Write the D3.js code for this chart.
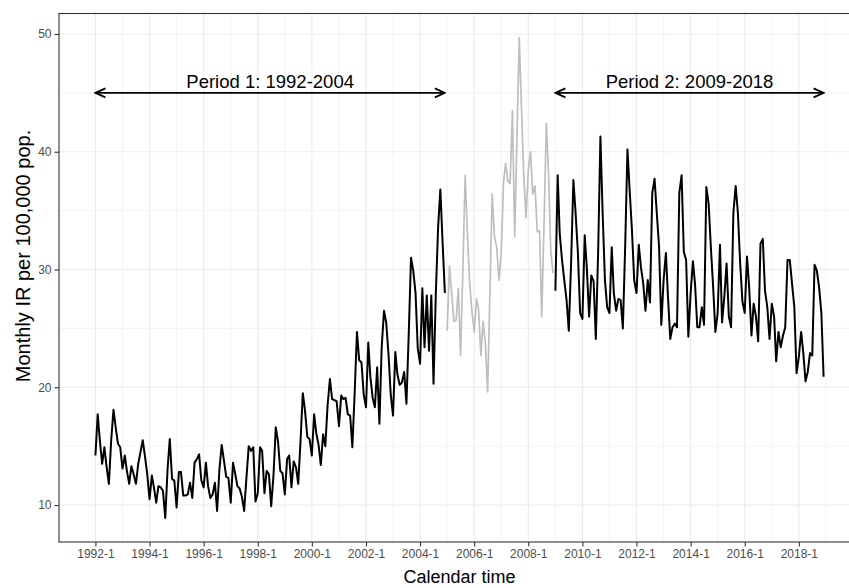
<!DOCTYPE html>
<html>
<head>
<meta charset="utf-8">
<script src="https://cdn.jsdelivr.net/npm/d3@7"></script>
<style>
  body { margin: 0; background: #fff; }
  text { font-family: "Liberation Sans", Arial, Helvetica, sans-serif; }
</style>
</head>
<body>
<div id="chart"></div>
<script>
// monthly IR per 100,000
var period1Start = "1992-01";
var period1Values = [
  14.2, 17.7, 15.5, 13.5, 14.9, 13.2, 11.8, 15.5, 18.1, 16.6, 15.2, 14.9,
  13.1, 14.2, 12.9, 11.8, 13.3, 12.6, 11.8, 13.5, 14.5, 15.5, 14.1, 12.6,
  10.5, 12.5, 11.5, 10.2, 11.6, 11.5, 11.2, 8.9, 13.0, 15.6, 12.2, 12.1,
  9.8, 12.8, 12.8, 10.8, 10.8, 10.9, 11.9, 10.6, 13.6, 13.9, 14.3, 12.1,
  11.5, 13.6, 11.6, 10.6, 10.9, 11.9, 9.5, 13.0, 15.1, 13.8, 12.4, 12.3,
  10.2, 13.6, 12.7, 11.6, 11.4, 10.7, 9.5, 12.3, 15.0, 14.6, 14.9, 10.3,
  11.0, 14.9, 14.6, 11.0, 12.9, 12.6, 9.9, 12.5, 16.6, 15.4, 12.9, 12.7,
  10.9, 13.9, 14.2, 11.5, 13.7, 13.2, 11.8, 15.4, 19.5, 18.0, 15.8, 15.6,
  14.2, 17.7, 16.1, 15.1, 13.4, 16.0, 15.0, 18.5, 20.7, 19.0, 18.9, 18.8,
  16.7, 19.3, 19.0, 19.1, 17.7, 17.6, 14.9, 19.5, 24.7, 22.3, 22.1, 19.4,
  18.3, 23.8, 20.9, 19.1, 18.3, 21.7, 16.9, 23.4, 26.5, 25.5, 22.8, 19.4,
  17.6, 23.0, 21.1, 20.2, 20.4, 21.3, 18.6, 24.5, 31.0, 29.9, 28.0, 23.3,
  22.0, 28.4, 23.4, 27.8, 23.1, 27.8, 20.3, 28.0, 33.6, 36.8, 32.2, 28.0
];

var transitionStart = "2005-01";
var transitionValues = [
  24.8, 30.3, 28.2, 25.6, 25.7, 28.4, 22.7, 30.0, 38.0, 33.1, 28.8, 26.5,
  24.7, 27.5, 26.6, 22.7, 25.6, 23.7, 19.6, 28.0, 36.4, 32.8, 31.9, 29.1,
  31.4, 37.5, 39.0, 37.5, 37.3, 43.5, 32.8, 41.0, 49.7, 43.8, 38.0, 34.4,
  38.4, 40.0, 36.4, 37.1, 33.2, 33.3, 26.0, 34.0, 42.4, 38.1, 31.4, 29.7
];

var period2Start = "2009-01";
var period2Values = [
  28.2, 38.0, 33.0, 30.8, 29.1, 27.4, 24.8, 30.5, 37.6, 34.8, 31.4, 26.3,
  25.8, 32.9, 30.2, 26.0, 29.5, 29.0, 24.1, 31.4, 41.3, 34.8, 29.1, 26.8,
  26.3, 31.9, 28.0, 26.5, 27.5, 27.4, 25.0, 31.9, 40.2, 36.7, 33.3, 29.1,
  28.0, 32.1, 30.2, 28.8, 26.5, 29.1, 27.2, 36.5, 37.7, 34.8, 31.9, 25.3,
  29.1, 31.4, 27.7, 24.1, 25.1, 25.4, 25.1, 36.5, 38.0, 31.5, 30.8, 24.3,
  28.0, 30.7, 28.8, 25.1, 25.1, 26.8, 25.3, 37.0, 35.6, 31.9, 28.5, 24.7,
  26.3, 32.1, 25.5, 27.7, 30.5, 26.0, 25.1, 34.8, 37.1, 34.8, 30.5, 27.3,
  26.3, 31.1, 28.5, 24.4, 27.1, 26.0, 23.9, 32.2, 32.6, 28.2, 26.8, 24.1,
  27.1, 26.0, 22.2, 24.7, 23.4, 24.4, 25.1, 30.8, 30.8, 28.8, 26.8, 21.2,
  22.6, 24.7, 23.0, 20.5, 21.3, 22.9, 22.7, 30.4, 29.9, 28.5, 26.3, 20.9
];

var xTickYears = [1992, 1994, 1996, 1998, 2000, 2002, 2004, 2006, 2008, 2010, 2012, 2014, 2016, 2018];
var xMinorYears = [1993, 1995, 1997, 1999, 2001, 2003, 2005, 2007, 2009, 2011, 2013, 2015, 2017, 2019];
var yTickValues = [10, 20, 30, 40, 50];
var yMinorValues = [15, 25, 35, 45];

var periodLabels = ["Period 1: 1992-2004", "Period 2: 2009-2018"];
var periodFrom = ["1992-01", "2009-01"];
var periodTo = ["2004-12", "2018-12"];
var arrowLevel = 45;

var svgWidth = 849;
var svgHeight = 588;

var margin = { top: 13.5, left: 59 };
var width = 801;
var height = 528.5;

var parseMonth = d3.timeParse("%Y-%m");

function toSeries(start, values) {
  var s = parseMonth(start);
  return values.map(function(v, i) {
    return { date: d3.timeMonth.offset(s, i), value: v };
  });
}

var period1 = toSeries(period1Start, period1Values);
var transition = toSeries(transitionStart, transitionValues);
var period2 = toSeries(period2Start, period2Values);
var allPoints = period1.concat(transition, period2);

// ggplot-like 5% expansion
var pad = width * 0.05 / 1.1;
var xScale = d3.scaleTime()
  .domain(d3.extent(allPoints, d => d.date))
  .range([pad, width - pad]);

var yExtent = d3.extent(allPoints, d => d.value);
var yPad = (yExtent[1] - yExtent[0]) * 0.05;
var yScale = d3.scaleLinear()
  .domain([yExtent[0] - yPad, yExtent[1] + yPad])
  .range([height, 0]);

var svg = d3.select("#chart")
  .append("svg")
  .attr("width", svgWidth)
  .attr("height", svgHeight);

svg.append("rect")
  .attr("width", svgWidth)
  .attr("height", svgHeight)
  .attr("fill", "#fff");

var defs = svg.append("defs");
defs.append("clipPath")
  .attr("id", "panel-clip")
  .append("rect")
  .attr("width", width)
  .attr("height", height);

defs.append("marker")
  .attr("id", "arrowhead")
  .attr("viewBox", "0 0 12 12")
  .attr("refX", 11)
  .attr("refY", 6)
  .attr("markerWidth", 12)
  .attr("markerHeight", 12)
  .attr("markerUnits", "userSpaceOnUse")
  .attr("orient", "auto-start-reverse")
  .append("path")
  .attr("d", "M1,1.5 L11,6 L1,10.5")
  .attr("fill", "none")
  .attr("stroke", "#000")
  .attr("stroke-width", 1.8);

var chartGroup = svg.append("g")
  .attr("transform", `translate(${margin.left}, ${margin.top})`);

var gridGroup = chartGroup.append("g")
  .attr("clip-path", "url(#panel-clip)");

// minor grid
gridGroup.selectAll(".xminor")
  .data(xMinorYears)
  .enter()
  .append("line")
  .attr("x1", d => xScale(new Date(d, 0, 1)))
  .attr("x2", d => xScale(new Date(d, 0, 1)))
  .attr("y1", 0)
  .attr("y2", height)
  .attr("stroke", "#F0F0F0")
  .attr("stroke-width", 0.8);

gridGroup.selectAll(".yminor")
  .data(yMinorValues)
  .enter()
  .append("line")
  .attr("x1", 0)
  .attr("x2", width)
  .attr("y1", d => yScale(d))
  .attr("y2", d => yScale(d))
  .attr("stroke", "#F0F0F0")
  .attr("stroke-width", 0.8);

// major grid
gridGroup.selectAll(".xmajor")
  .data(xTickYears)
  .enter()
  .append("line")
  .attr("x1", d => xScale(new Date(d, 0, 1)))
  .attr("x2", d => xScale(new Date(d, 0, 1)))
  .attr("y1", 0)
  .attr("y2", height)
  .attr("stroke", "#EBEBEB")
  .attr("stroke-width", 1.1);

gridGroup.selectAll(".ymajor")
  .data(yTickValues)
  .enter()
  .append("line")
  .attr("x1", 0)
  .attr("x2", width)
  .attr("y1", d => yScale(d))
  .attr("y2", d => yScale(d))
  .attr("stroke", "#EBEBEB")
  .attr("stroke-width", 1.1);

var line = d3.line()
  .x(d => xScale(d.date))
  .y(d => yScale(d.value));

gridGroup.append("path")
  .datum(transition)
  .attr("d", line)
  .attr("fill", "none")
  .attr("stroke", "#BEBEBE")
  .attr("stroke-width", 1.7)
  .attr("stroke-linejoin", "round");

[period1, period2].forEach(function(series) {
  gridGroup.append("path")
    .datum(series)
    .attr("d", line)
    .attr("fill", "none")
    .attr("stroke", "#000")
    .attr("stroke-width", 2)
    .attr("stroke-linejoin", "round");
});

// period arrows + labels
periodLabels.forEach(function(label, i) {
  var x1 = xScale(parseMonth(periodFrom[i]));
  var x2 = xScale(parseMonth(periodTo[i]));
  var y = yScale(arrowLevel);

  chartGroup.append("line")
    .attr("x1", x1)
    .attr("x2", x2)
    .attr("y1", y)
    .attr("y2", y)
    .attr("stroke", "#000")
    .attr("stroke-width", 1.8)
    .attr("marker-start", "url(#arrowhead)")
    .attr("marker-end", "url(#arrowhead)");

  chartGroup.append("text")
    .attr("x", (x1 + x2) / 2)
    .attr("y", y - 4.5)
    .attr("text-anchor", "middle")
    .attr("font-size", "18.5px")
    .attr("fill", "#000")
    .text(label);
});

// panel border
chartGroup.append("rect")
  .attr("width", width)
  .attr("height", height)
  .attr("fill", "none")
  .attr("stroke", "#333")
  .attr("stroke-width", 1.1);

// axes
var bottomAxis = d3.axisBottom(xScale)
  .tickValues(xTickYears.map(y => new Date(y, 0, 1)))
  .tickFormat(d => d.getFullYear() + "-" + (d.getMonth() + 1))
  .tickSizeInner(4.5)
  .tickSizeOuter(0)
  .tickPadding(3);

var leftAxis = d3.axisLeft(yScale)
  .tickValues(yTickValues)
  .tickSizeInner(4.5)
  .tickSizeOuter(0)
  .tickPadding(3);

var xAxis = chartGroup.append("g")
  .attr("transform", `translate(0, ${height})`)
  .call(bottomAxis);

var yAxis = chartGroup.append("g")
  .call(leftAxis);

[xAxis, yAxis].forEach(function(ax) {
  ax.select(".domain").remove();
  ax.selectAll(".tick line").attr("stroke", "#333").attr("stroke-width", 1.1);
  ax.selectAll(".tick text")
    .attr("fill", "#4D4D4D")
    .attr("font-size", "12px")
    .attr("font-family", "'Liberation Sans', Arial, sans-serif");
});

svg.append("text")
  .attr("x", margin.left + width / 2)
  .attr("y", 583)
  .attr("text-anchor", "middle")
  .attr("font-size", "18px")
  .attr("fill", "#000")
  .text("Calendar time");

svg.append("text")
  .attr("transform", "rotate(-90)")
  .attr("x", -256)
  .attr("y", 30)
  .attr("text-anchor", "middle")
  .attr("font-size", "20px")
  .attr("fill", "#000")
  .text("Monthly IR per 100,000 pop.");
</script>
</body>
</html>
